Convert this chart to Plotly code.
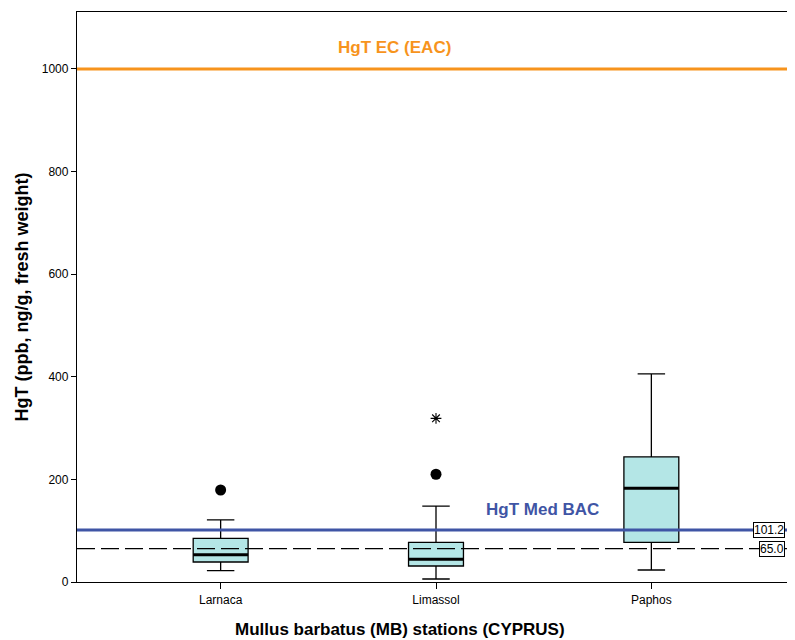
import plotly.graph_objects as go

stations = ["Larnaca", "Limassol", "Paphos"]
q1 = [39.0, 31.2, 77.4]
median = [53.2, 44.2, 182.6]
q3 = [85.2, 77.4, 244.0]
lower_whisker = [22.0, 5.8, 23.4]
upper_whisker = [120.9, 148.0, 405.5]

outlier_x = ["Larnaca", "Limassol"]
outlier_y = [179.3, 210.0]
extreme_x = ["Limassol"]
extreme_y = [319.0]

eac_value = 1000
bac_value = 101.2
ref_value = 65.0

fig = go.Figure()

fig.add_trace(go.Box(
    x=stations, q1=q1, median=median, q3=q3,
    lowerfence=lower_whisker, upperfence=upper_whisker,
    width=0.255, whiskerwidth=0.5,
    fillcolor="#B4E6E6", line=dict(color="black", width=1.3),
    boxpoints=False, showlegend=False, hoverinfo="y",
))

# thicker median lines
for i, m in enumerate(median):
    fig.add_shape(type="line", xref="x", yref="y",
                  x0=i - 0.1275, x1=i + 0.1275,
                  y0=m, y1=m, line=dict(color="black", width=3))

fig.add_trace(go.Scatter(x=outlier_x, y=outlier_y, mode="markers",
                         marker=dict(symbol="circle", size=11, color="black"),
                         showlegend=False))
fig.add_trace(go.Scatter(x=extreme_x, y=extreme_y, mode="markers",
                         marker=dict(symbol="asterisk-open", size=9, color="black",
                                     line=dict(color="black", width=1.1)),
                         showlegend=False))

fig.add_shape(type="line", xref="paper", yref="y", x0=0, x1=1, y0=eac_value, y1=eac_value,
              line=dict(color="#F7941D", width=3))
fig.add_shape(type="line", xref="paper", yref="y", x0=0, x1=1, y0=bac_value, y1=bac_value,
              line=dict(color="#3F55A5", width=3))
fig.add_shape(type="line", xref="paper", yref="y", x0=0, x1=1, y0=ref_value, y1=ref_value,
              line=dict(color="black", width=1.3, dash="18px,6px"))

fig.add_annotation(x=0.809, y=1041, xref="x", yref="y", text="<b>HgT EC (EAC)</b>",
                   showarrow=False, font=dict(family="Arial, Liberation Sans", size=17, color="#F7941D"))
fig.add_annotation(x=1.495, y=142, xref="x", yref="y", text="<b>HgT Med BAC</b>",
                   showarrow=False, font=dict(family="Arial, Liberation Sans", size=17, color="#3F55A5"))
fig.add_annotation(x=0.986, y=bac_value, xref="paper", yref="y", text=f"{bac_value:.1f}",
                   xanchor="right", showarrow=False, bgcolor="white", bordercolor="black",
                   borderwidth=1, borderpad=0, font=dict(family="Arial, Liberation Sans", size=12, color="black"))
fig.add_annotation(x=0.986, y=ref_value, xref="paper", yref="y", text=f"{ref_value:.1f}",
                   xanchor="right", showarrow=False, bgcolor="white", bordercolor="black",
                   borderwidth=1, borderpad=0, font=dict(family="Arial, Liberation Sans", size=12, color="black"))
# x-axis title (centred like the original, left of the plot centre)
fig.add_annotation(x=0.45, y=-0.0842, xref="paper", yref="paper",
                   text="<b>Mullus barbatus (MB) stations (CYPRUS)</b>",
                   showarrow=False, xanchor="center", yanchor="middle",
                   font=dict(family="Arial, Liberation Sans", size=17, color="black"))

fig.update_layout(
    width=787, height=632,
    margin=dict(l=69, r=0, t=4, b=58, autoexpand=False),
    plot_bgcolor="white", paper_bgcolor="white",
    font=dict(family="Arial, Liberation Sans", size=12, color="black"),
)
fig.update_xaxes(
    type="category", range=[-0.667, 2.667], automargin=False,
    showline=True, linecolor="black", linewidth=1.3, mirror=True,
    ticks="outside", ticklen=6, tickcolor="black",
    showgrid=False, zeroline=False,
)
fig.update_yaxes(
    range=[0, 1111], tickvals=[0, 200, 400, 600, 800, 1000], automargin=False,
    showline=True, linecolor="black", linewidth=1.3,
    ticks="outside", ticklen=5, tickcolor="black",
    showgrid=False, zeroline=False,
    title=dict(text="<b>HgT (ppb, ng/g, fresh weight)</b>",
               font=dict(size=18), standoff=8),
)

fig.write_html("out.html")
